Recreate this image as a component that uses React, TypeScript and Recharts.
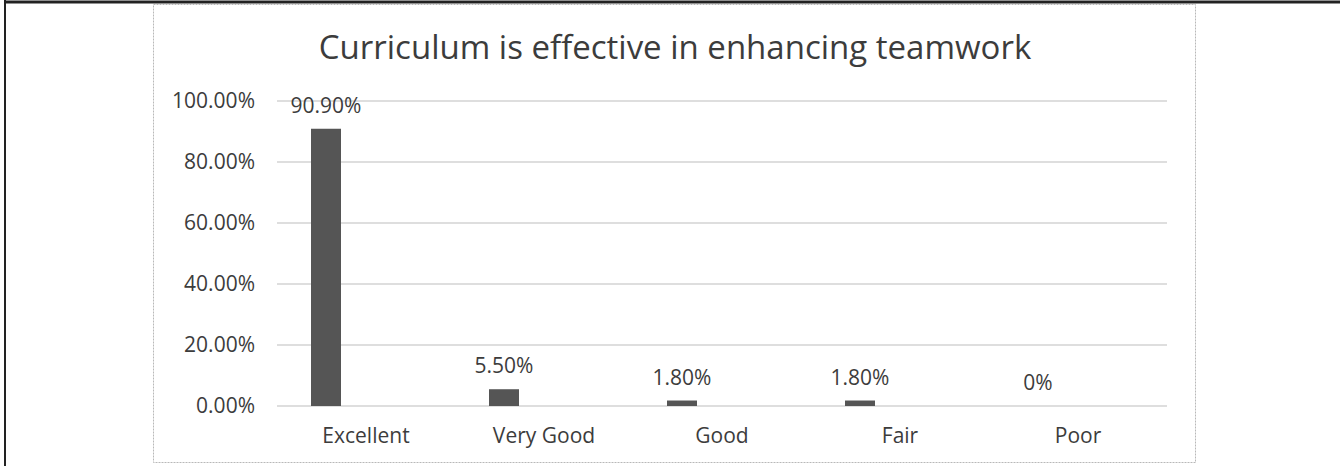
import { Bar, BarChart, CartesianGrid, LabelList, XAxis, YAxis } from "recharts";

const categories = ["Excellent", "Very Good", "Good", "Fair", "Poor"];
const shares = [0.909, 0.055, 0.018, 0.018, 0];
const shareLabels = ["90.90%", "5.50%", "1.80%", "1.80%", "0%"];
const yTicks = [0, 0.2, 0.4, 0.6, 0.8, 1];

const title = "Curriculum is effective in enhancing teamwork";
const ink = "#3c3c3c";
const font = "'Open Sans', sans-serif";

// second (empty) series keeps the bars offset left like the original Excel chart
const data = categories.map((name, i) => ({
  name,
  share: shares[i],
  label: shareLabels[i],
  empty: null,
}));

const pct = (v: number) => `${(v * 100).toFixed(2)}%`;

export default function App() {
  return (
    <div style={{ position: "absolute", left: 0, top: 0, width: 1340, height: 466, background: "#fff" }}>
      <svg width={1340} height={466} style={{ position: "absolute", left: 0, top: 0 }}>
        <line x1={5} y1={0} x2={5} y2={466} stroke="#222" strokeWidth={2} />
        <line x1={4} y1={2} x2={1340} y2={2} stroke="#222" strokeWidth={3} />
        <rect x={153.5} y={4.5} width={1042} height={458} fill="none" stroke="#b8b8b8" strokeDasharray="2 1" />
        <text x={675} y={59} textAnchor="middle" fill={ink} fontFamily={font} fontSize={33}>
          {title}
        </text>
      </svg>
      <div style={{ position: "absolute", left: 0, top: 0 }}>
        <BarChart
          width={1340}
          height={466}
          data={data}
          margin={{ top: 101, right: 173, bottom: 20, left: 177 }}
          barSize={30}
          barGap={50}
        >
          <CartesianGrid vertical={false} stroke="#bdbdbd" />
          <XAxis
            dataKey="name"
            axisLine={false}
            tickLine={false}
            height={40}
            tickMargin={16}
            tick={{ fill: ink, fontSize: 21, fontFamily: font }}
          />
          <YAxis
            domain={[0, 1]}
            ticks={yTicks}
            width={100}
            axisLine={false}
            tickLine={false}
            tickMargin={16}
            tickFormatter={pct}
            tick={{ fill: ink, fontSize: 21, fontFamily: font }}
          />
          <Bar dataKey="share" fill="#555555" minPointSize={0.01} isAnimationActive={false}>
            <LabelList dataKey="label" position="top" offset={16} fill={ink} fontSize={21} fontFamily={font} />
          </Bar>
          <Bar dataKey="empty" fill="#555555" isAnimationActive={false} />
        </BarChart>
      </div>
    </div>
  );
}
